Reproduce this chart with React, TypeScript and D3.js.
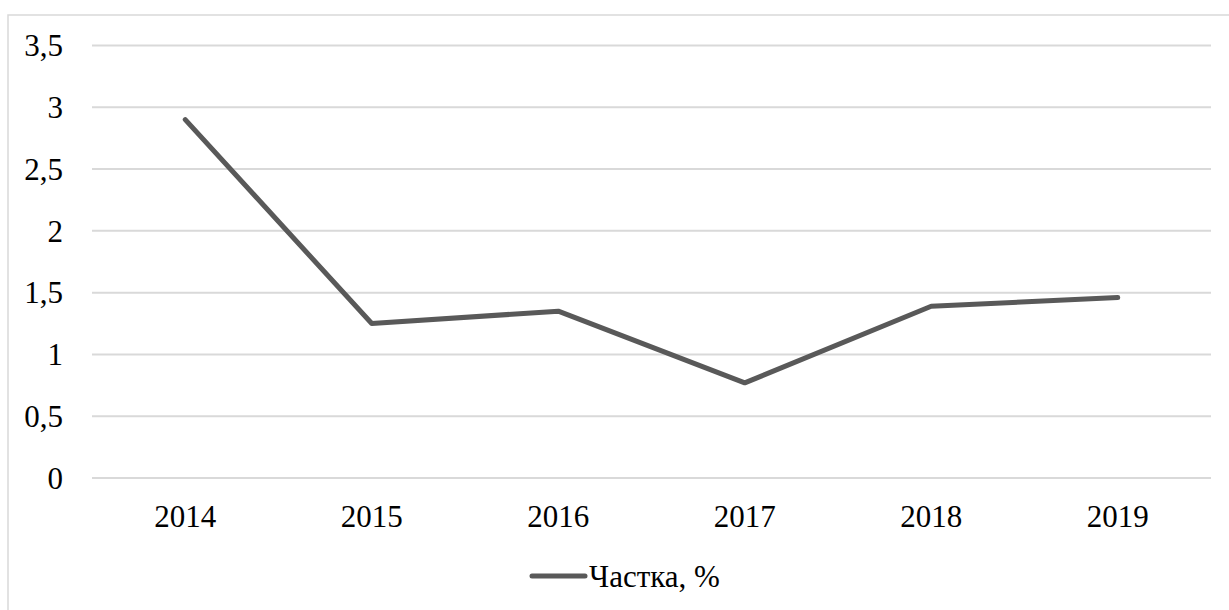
import React from "react";
import * as d3 from "d3";

const years = ["2014", "2015", "2016", "2017", "2018", "2019"];
const shares = [2.9, 1.25, 1.35, 0.77, 1.39, 1.46];
const yTicks = [0, 0.5, 1, 1.5, 2, 2.5, 3, 3.5];
const seriesName = "Частка, %";

const W = 1229;
const H = 610;
const plot = { left: 92, right: 1211, top: 45.5, bottom: 478 };
const FONT = "'Liberation Serif', 'Times New Roman', serif";

export default function App() {
  const x = d3
    .scaleBand<string>()
    .domain(years)
    .range([plot.left, plot.right])
    .padding(0);
  const y = d3.scaleLinear().domain([0, 3.5]).range([plot.bottom, plot.top]);

  const line = d3
    .line<number>()
    .x((_, i) => (x(years[i]) as number) + x.bandwidth() / 2)
    .y((d) => y(d));

  const fmt = (v: number) => String(v).replace(".", ",");

  return (
    <svg
      width={W}
      height={H}
      style={{ position: "absolute", left: 0, top: 0, background: "#fff" }}
      fontFamily={FONT}
    >
      <rect x={8} y={15} width={W + 20} height={H + 20} fill="#fff" stroke="#d9d9d9" strokeWidth={1.5} />
      {yTicks.map((t) => (
        <g key={t}>
          <line x1={plot.left} x2={plot.right} y1={y(t)} y2={y(t)} stroke="#d9d9d9" strokeWidth={2} />
          <text x={63} y={y(t)} dy="0.35em" textAnchor="end" fontSize={31} fill="#000">
            {fmt(t)}
          </text>
        </g>
      ))}
      {years.map((yr) => (
        <text
          key={yr}
          x={(x(yr) as number) + x.bandwidth() / 2}
          y={527}
          textAnchor="middle"
          fontSize={31}
          fill="#000"
        >
          {yr}
        </text>
      ))}
      <path
        d={line(shares) || ""}
        fill="none"
        stroke="#595959"
        strokeWidth={5}
        strokeLinecap="round"
        strokeLinejoin="round"
      />
      <line x1={532} x2={585} y1={576} y2={576} stroke="#595959" strokeWidth={5} strokeLinecap="round" />
      <text x={589} y={587} fontSize={31} fill="#000">
        {seriesName}
      </text>
    </svg>
  );
}
